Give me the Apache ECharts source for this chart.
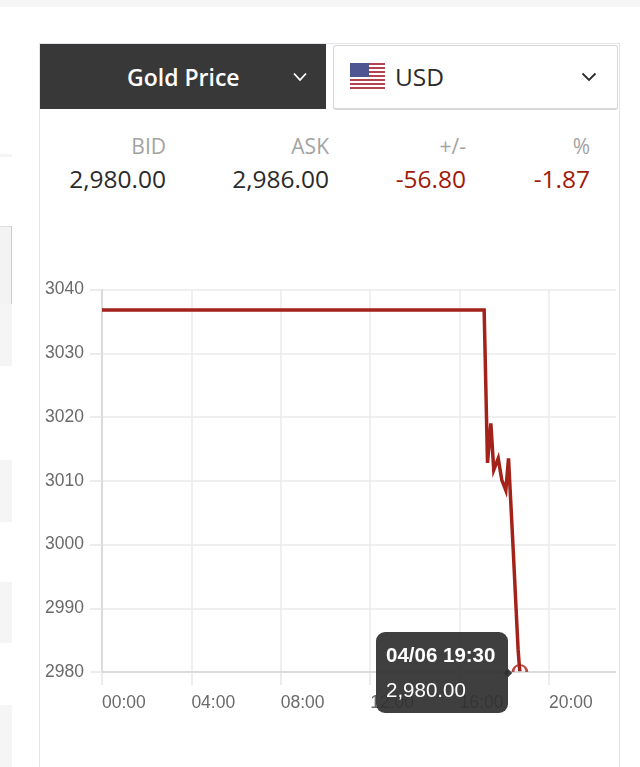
<!DOCTYPE html>
<html>
<head>
<meta charset="utf-8">
<title>Gold Price</title>
<script src="https://cdn.jsdelivr.net/npm/echarts@6/dist/echarts.min.js"></script>
<style>
    html, body { margin: 0; padding: 0; background: #fff; overflow: hidden; }
    body { width: 640px; height: 767px; position: relative; font-family: "Open Sans", sans-serif; }
    .abs { position: absolute; }
    .band { position: absolute; left: 0; width: 12px; background: #f5f5f5; }
    .head { position: absolute; top: 134px; font-size: 21px; line-height: 24px; color: #a3a3a3; text-align: right; width: 90px; }
    .val { position: absolute; top: 164px; font-size: 24.5px; line-height: 30px; color: #2b2b2b; text-align: right; width: 110px; }
    .down { color: #a01a0c; }
    #main { position: absolute; left: 0; top: 0; width: 640px; height: 767px; }
</style>
</head>
<body>
<div class="abs" style="left:0;top:0;width:640px;height:7px;background:#f5f5f5"></div>

<div class="band" style="top:154px;height:3px"></div>
<div class="band" style="top:226px;height:77px;background:#f3f3f3;border-top:1px solid #ddd;border-right:1px solid #ccc;border-bottom:1px solid #bbb;width:11px"></div>
<div class="band" style="top:304px;height:62px"></div>
<div class="band" style="top:460px;height:62px"></div>
<div class="band" style="top:582px;height:61px"></div>
<div class="band" style="top:705px;height:62px"></div>

<div class="abs" style="left:39px;top:43px;width:579px;height:724px;border:1px solid #e4e4ea;border-bottom:0"></div>
<div class="abs" style="left:40px;top:44px;width:286px;height:65px;background:#383838"></div>
<div class="abs" style="left:127px;top:60px;font-size:23px;line-height:34px;font-weight:600;color:#fff">Gold Price</div>
<svg class="abs" style="left:292px;top:72px" width="16" height="10"><polyline points="2,1.5 8,8 14,1.5" fill="none" stroke="#fff" stroke-width="1.8"/></svg>

<div class="abs" style="left:333px;top:45px;width:283px;height:62px;background:#fff;border:1px solid #d8d8d8;border-bottom-width:2px;border-radius:3px"></div>
<svg class="abs" style="left:350px;top:63px" width="35" height="26" id="flag"></svg>
<div class="abs" style="left:395px;top:60px;font-size:24.5px;line-height:34px;color:#2b2b2b">USD</div>
<svg class="abs" style="left:581px;top:72px" width="16" height="10"><polyline points="1.5,1.5 8,8 14.5,1.5" fill="none" stroke="#2b2b2b" stroke-width="1.8"/></svg>

<div class="head" style="left:76px">BID</div>
<div class="head" style="left:239px">ASK</div>
<div class="head" style="left:376px">+/-</div>
<div class="head" style="left:500px">%</div>
<div class="val" style="left:56px">2,980.00</div>
<div class="val" style="left:219px">2,986.00</div>
<div class="val down" style="left:356px">-56.80</div>
<div class="val down" style="left:480px">-1.87</div>

<div id="main"></div>

<script>
// hours since midnight
var hours = [0, 17.1, 17.25, 17.4, 17.53, 17.73, 17.89, 18.07, 18.19, 18.31, 18.41, 18.51, 18.57, 18.62, 18.67, 18.7];
var prices = [3036.8, 3036.8, 3012.8, 3019, 3011.7, 3013.5, 3010.1, 3008.5, 3013.5, 3005.4, 2998.5, 2991.3, 2987, 2983.5, 2981.2, 2980];
var xTicks = [0, 4, 8, 12, 16, 20];
var yMin = 2980;
var yMax = 3040;
var tipTime = "04/06 19:30";
var tipPrice = "2,980.00";

var flag = document.getElementById("flag");
var flagHtml = '';
for (var i = 0; i < 13; i++) {
    flagHtml += '<rect x="0" y="' + (i * 2) + '" width="35" height="2" fill="' + (i % 2 ? '#fff' : '#b5424f') + '"/>';
}
flagHtml += '<rect x="0" y="0" width="19" height="14" fill="#4f5590"/>';
flag.innerHTML = flagHtml;

var chart = echarts.init(document.getElementById("main"));
var axisFont = '"Liberation Sans", Arial, sans-serif';

var seriesData = [];
for (var j = 0; j < hours.length; j++) {
    seriesData.push([hours[j], prices[j]]);
}

chart.setOption({
    animation: false,
    grid: { left: 102, top: 289.5, width: 514, height: 382.5 },
    tooltip: {
        trigger: 'item',
        position: 'left',
        alwaysShowContent: true,
        transitionDuration: 0,
        backgroundColor: 'rgba(48,48,48,0.93)',
        borderWidth: 0,
        borderRadius: 9,
        padding: [5, 10, 6, 10],
        textStyle: { color: '#fff', fontSize: 21 },
        extraCssText: 'box-shadow:none;margin-left:5px;margin-top:4px;',
        formatter: function () {
            return '<div style="font-family:Liberation Sans;color:#fff;font-size:20.5px;line-height:35px;width:112px;white-space:nowrap">' +
                '<b>' + tipTime + '</b><br>' + tipPrice + '</div>';
        }
    },
    xAxis: {
        type: 'value',
        min: 0,
        max: 23,
        interval: 4,
        axisLine: { show: false },
        axisTick: { show: true, length: 13, customValues: xTicks, lineStyle: { color: '#e6e6e6', width: 1.5 } },
        splitLine: { show: true, lineStyle: { color: '#ebebeb', width: 1.5 } },
        axisLabel: {
            customValues: xTicks,
            color: '#6a6a6a',
            fontFamily: axisFont,
            fontSize: 17.5,
            margin: 22,
            align: 'left',
            formatter: function (v) {
                return (v < 10 ? '0' : '') + v + ':00';
            }
        }
    },
    yAxis: {
        type: 'value',
        min: yMin,
        max: yMax,
        interval: 10,
        axisLine: { show: true, lineStyle: { color: '#d4d4d4', width: 1.5 } },
        axisTick: { show: true, length: 12, lineStyle: { color: '#e6e6e6', width: 1.5 } },
        splitLine: { show: true, lineStyle: { color: '#ebebeb', width: 1.5 } },
        axisLabel: {
            color: '#6a6a6a',
            fontFamily: axisFont,
            fontSize: 17.5,
            margin: 18,
            formatter: function (v) { return String(v); }
        }
    },
    series: [{
        type: 'line',
        data: seriesData,
        symbol: 'none',
        lineStyle: { color: '#a3221a', width: 3.5, join: 'miter' },
        itemStyle: { color: '#a3221a' },
        markLine: {
            silent: true,
            symbol: 'none',
            label: { show: false },
            lineStyle: { color: '#d4d4d4', width: 1.5, type: 'solid' },
            data: [{ yAxis: yMin }]
        }
    }, {
        // last reading: only the half ring above the axis shows
        type: 'scatter',
        data: [seriesData[seriesData.length - 1]],
        symbol: 'path://M0,10 A10,10 0 0 1 20,10',
        symbolSize: [14, 7],
        symbolOffset: [0, -3.5],
        itemStyle: { color: 'transparent', borderColor: '#a3221a', borderWidth: 2 },
        z: 5
    }]
});

chart.dispatchAction({ type: 'showTip', seriesIndex: 1, dataIndex: 0 });
</script>
</body>
</html>
